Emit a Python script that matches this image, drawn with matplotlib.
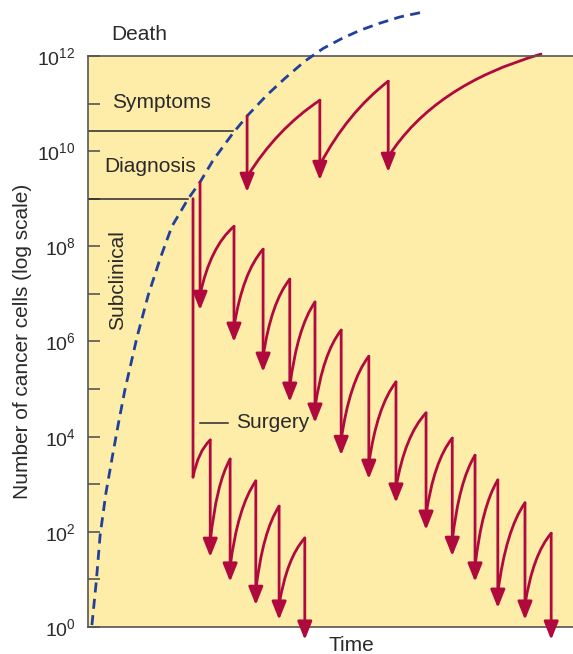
import matplotlib.pyplot as plt
from matplotlib.path import Path
from matplotlib.patches import PathPatch

plt.rcParams['font.family'] = ['Liberation Sans', 'DejaVu Sans']
plt.rcParams['mathtext.fontset'] = 'custom'
plt.rcParams['mathtext.rm'] = 'Liberation Sans'

# time axis in arbitrary units (0..100), values are log10(number of cells)
growth_t = [0.8, 1.7, 2.5, 3.7, 5.0, 6.2, 7.6, 10.1, 12.4, 14.9, 17.3, 20.6, 23.1,
            25.8, 29.9, 33.0, 36.9, 40.6, 44.7, 48.5, 52.4, 56.1, 60.2, 64.3, 68.9]
growth_log = [0.04, 0.95, 1.93, 2.82, 3.57, 4.24, 4.98, 6.09, 6.97, 7.75, 8.42, 8.99, 9.35,
              9.81, 10.38, 10.76, 11.18, 11.53, 11.89, 12.16, 12.37, 12.54, 12.69, 12.82, 12.92]

# therapy started after symptoms
late_t = [32.8, 47.8, 61.9]
late_peak = [10.74, 11.07, 11.47]
late_low = [9.14, 9.39, 9.56]
late_end_t, late_end_log = 93.4, 12.04

# chemotherapy started at diagnosis
chemo_t = [23.1, 30.1, 36.1, 41.6, 46.8, 52.2, 57.9, 63.5, 69.7, 75.1, 79.8, 84.5, 90.1, 95.5]
chemo_peak = [9.35, 8.42, 7.94, 7.31, 6.83, 6.24, 5.69, 5.15, 4.50, 3.97, 3.61, 3.09, 2.61, 1.97]
chemo_low = [6.66, 5.99, 5.36, 4.73, 4.29, 3.61, 3.11, 2.61, 2.04, 1.49, 0.95, 0.40, 0.15, -0.27]

# surgery then adjuvant chemotherapy
surg_t, surg_from, surg_to = 21.65, 9.0, 3.15
adj_t = [25.2, 29.3, 34.6, 39.4, 44.7]
adj_peak = [3.93, 3.53, 3.07, 2.54, 1.87]
adj_low = [1.47, 0.95, 0.46, 0.15, -0.27]

symptoms_level, symptoms_end = 10.42, 29.9
diagnosis_level, diagnosis_end = 9.0, 20.6

RED = '#b0093e'
BLUE = '#21409a'
BG = '#feeca9'
INK = '#2a2a2a'
HEAD = 0.32  # arrow head height in decades, regrowth starts above it


def drop(ax, t, hi, lo, head=True):
    style = '-|>,head_length=0.55,head_width=0.22' if head else '-'
    ax.annotate('', xy=(t, 10 ** lo), xytext=(t, 10 ** hi),
                arrowprops=dict(arrowstyle=style, color=RED, lw=2, shrinkA=0, shrinkB=0,
                                mutation_scale=20),
                annotation_clip=False)


def regrow(ax, t0, y0, t1, y1, bend=(0.3, 0.7)):
    # quadratic bezier, control point up-left of the chord -> slowing growth
    ct = t0 + bend[0] * (t1 - t0)
    cy = y0 + bend[1] * (y1 - y0)
    p = Path([(t0, 10 ** y0), (ct, 10 ** cy), (t1, 10 ** y1)],
             [Path.MOVETO, Path.CURVE3, Path.CURVE3])
    ax.add_patch(PathPatch(p, fill=False, edgecolor=RED, lw=2, clip_on=False,
                           capstyle='round'))


def sawtooth(ax, ts, peaks, lows, bend=(0.3, 0.7)):
    for i in range(len(ts)):
        drop(ax, ts[i], peaks[i], lows[i])
        if i + 1 < len(ts):
            regrow(ax, ts[i], lows[i] + HEAD, ts[i + 1], peaks[i + 1], bend)


fig = plt.figure(figsize=(5.73, 6.54), dpi=100)
ax = fig.add_axes([0.1536, 0.0413, 0.8464, 0.8731])
ax.set_facecolor(BG)
ax.set_yscale('log')
ax.set_xlim(0, 100)
ax.set_ylim(1, 1e12)

for s in ['left', 'top', 'bottom']:
    ax.spines[s].set_color('#555555')
    ax.spines[s].set_linewidth(1.2)
ax.spines['right'].set_visible(False)

ax.set_xticks([])
ax.set_yticks([10.0 ** k for k in range(13)])
ax.set_yticklabels([r'$\mathregular{10^{%d}}$' % k if k % 2 == 0 else '' for k in range(13)])
ax.minorticks_off()
ax.tick_params(axis='y', direction='in', length=8.5, width=1.2, color='#555555',
               pad=9, labelsize=14, labelcolor=INK)

# thresholds
ax.plot([0, symptoms_end], [10 ** symptoms_level] * 2, color=INK, lw=1.1)
ax.plot([0, diagnosis_end], [10 ** diagnosis_level] * 2, color=INK, lw=1.1)

# untreated growth
ax.plot(growth_t, [10 ** v for v in growth_log], color=BLUE, lw=2,
        linestyle=(0, (3.6, 2.3)), clip_on=False, zorder=3)

sawtooth(ax, late_t, late_peak, late_low, bend=(0.4, 0.62))
regrow(ax, late_t[-1], late_low[-1] + HEAD, late_end_t, late_end_log)
sawtooth(ax, chemo_t, chemo_peak, chemo_low)

drop(ax, surg_t, surg_from, surg_to, head=False)
regrow(ax, surg_t, surg_to, adj_t[0], adj_peak[0])
sawtooth(ax, adj_t, adj_peak, adj_low)

fs = 15
ax.text(4.8, 10 ** 12.46, 'Death', fontsize=fs, color=INK, va='center')
ax.text(4.9, 10 ** 11.03, 'Symptoms', fontsize=fs, color=INK, va='center')
ax.text(3.3, 10 ** 9.68, 'Diagnosis', fontsize=fs, color=INK, va='center')
ax.text(6.0, 10 ** 7.29, 'Subclinical', fontsize=fs, color=INK, va='center',
        ha='center', rotation=90)
ax.plot([23.1, 28.9], [10 ** 4.29] * 2, color=INK, lw=1.1)
ax.text(30.5, 10 ** 4.29, 'Surgery', fontsize=fs, color=INK, va='center')

ax.text(0.544, -0.032, 'Time', transform=ax.transAxes, fontsize=fs, color=INK,
        ha='center', va='center')
ax.text(-0.136, 0.5, 'Number of cancer cells (log scale)', transform=ax.transAxes,
        fontsize=fs, color=INK, ha='center', va='center', rotation=90)

fig.savefig('out.png', dpi=100)
